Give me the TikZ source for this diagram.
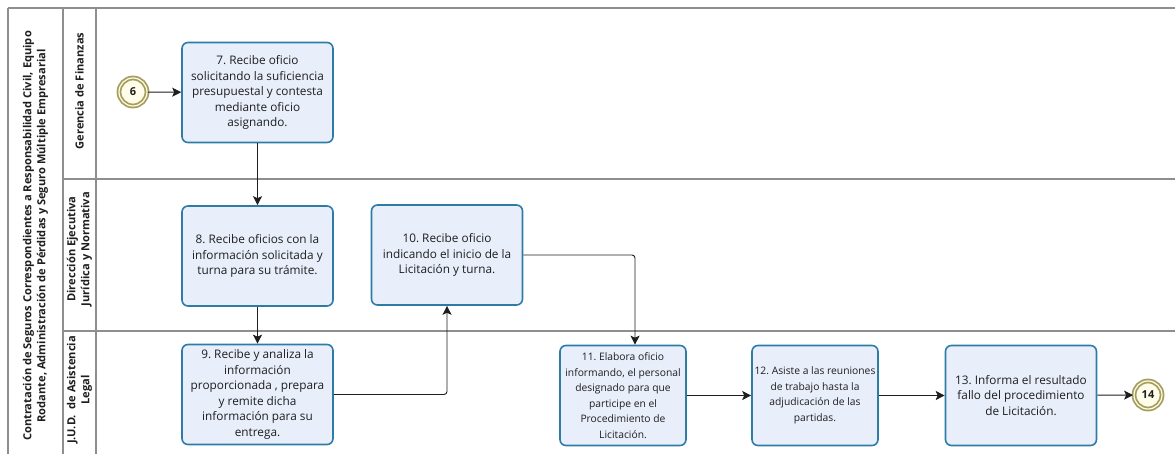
\documentclass[tikz,border=0pt]{standalone}
\usepackage{fontspec}
\setmainfont{Open Sans}
\usetikzlibrary{arrows.meta}
\definecolor{taskfill}{HTML}{E9EEFB}
\definecolor{taskline}{HTML}{2E7BA5}
\definecolor{evtline}{HTML}{A59E5C}
\definecolor{evtfill}{HTML}{FFFCEA}
\definecolor{poolline}{HTML}{8E8E8E}
\definecolor{ink}{HTML}{1E1E1E}
\frenchspacing

\begin{document}
\begin{tikzpicture}[x=1pt,y=-1pt,
        task/.style={draw=taskline,fill=taskfill,line width=1.6pt,rounded corners=6pt,
          minimum width=151pt,minimum height=100pt,align=center,
          inner sep=0pt,text=ink,font=\fontsize{11.8}{15.5}\selectfont},
        narrow/.style={minimum width=126pt,font=\fontsize{10.3}{15.5}\selectfont},
        evt/.style={circle,draw=evtline,double=evtfill,double distance=1.2pt,line width=1.8pt,
          fill=evtfill,minimum size=28pt,inner sep=0pt,text=ink,font=\bfseries\fontsize{11}{12}\selectfont},
        pool/.style={draw=poolline,line width=1.3pt},
        lanename/.style={rotate=90,align=center,text=ink,font=\bfseries\fontsize{11.1}{14}\selectfont},
        flow/.style={-{Stealth[length=9pt,width=9pt,inset=2pt]},draw=ink,line width=0.9pt,rounded corners=3pt}]
        \useasboundingbox (0,0) rectangle (1175,454);
        % pool and lanes
        \draw[pool] (8,8) -- (1175,8);
        \draw[pool] (8,8) -- (8,454);
        \draw[pool] (63,8) -- (63,454);
        \draw[pool] (96,8) -- (96,454);
        \draw[pool] (63,179) -- (1175,179);
        \draw[pool] (63,331) -- (1175,331);
        \node[lanename] (proc) at (35.5,236) {Contratación de Seguros Correspondientes a Responsabilidad Civil, Equipo\\Rodante, Administración de Pérdidas y Seguro Múltiple Empresarial};
        \node[lanename] (gf) at (79.5,91) {Gerencia de Finanzas};
        \node[lanename] (dejn) at (79.5,249) {Dirección Ejecutiva\\Jurídica y Normativa};
        \node[lanename] (jud) at (79.5,390) {J.U.D.~~de Asistencia\\Legal};
        % events and tasks
        \node[evt] (e6) at (133,92) {6};
        \node[task] (t7) at (257.5,92.5) {7. Recibe oficio\\solicitando la suficiencia\\presupuestal y contesta\\mediante oficio\\asignando.};
        \node[task] (t8) at (257.5,256) {8. Recibe oficios con la\\información solicitada y\\turna para su trámite.};
        \node[task] (t9) at (257.5,394.5) {9. Recibe y analiza la\\información\\proporcionada , prepara\\y remite dicha\\información para su\\entrega.};
        \node[task] (t10) at (447,255) {10. Recibe oficio\\indicando el inicio de la\\Licitación y turna.};
        \node[task,narrow] (t11) at (623,395.5) {11. Elabora oficio\\informando, el personal\\designado para que\\participe en el\\Procedimiento de\\Licitación.};
        \node[task,narrow] (t12) at (815,395.5) {12. Asiste a las reuniones\\de trabajo hasta la\\adjudicación de las\\partidas.};
        \node[task] (t13) at (1021,395.5) {13. Informa el resultado\\fallo del procedimiento\\de Licitación.};
        \node[evt] (e14) at (1148,395) {14};
        % connectors
        \draw[flow] (e6) -- (t7);
        \draw[flow] (t7) -- (t8);
        \draw[flow] (t8) -- (t9);
        \draw[flow] (t9.east) -| (t10.south);
        \draw[flow] (t10.east) -| ([xshift=12pt]t11.north);
        \draw[flow] (t11) -- (t12);
        \draw[flow] (t12) -- (t13);
        \draw[flow] (t13) -- (e14);
      \end{tikzpicture}
\end{document}
